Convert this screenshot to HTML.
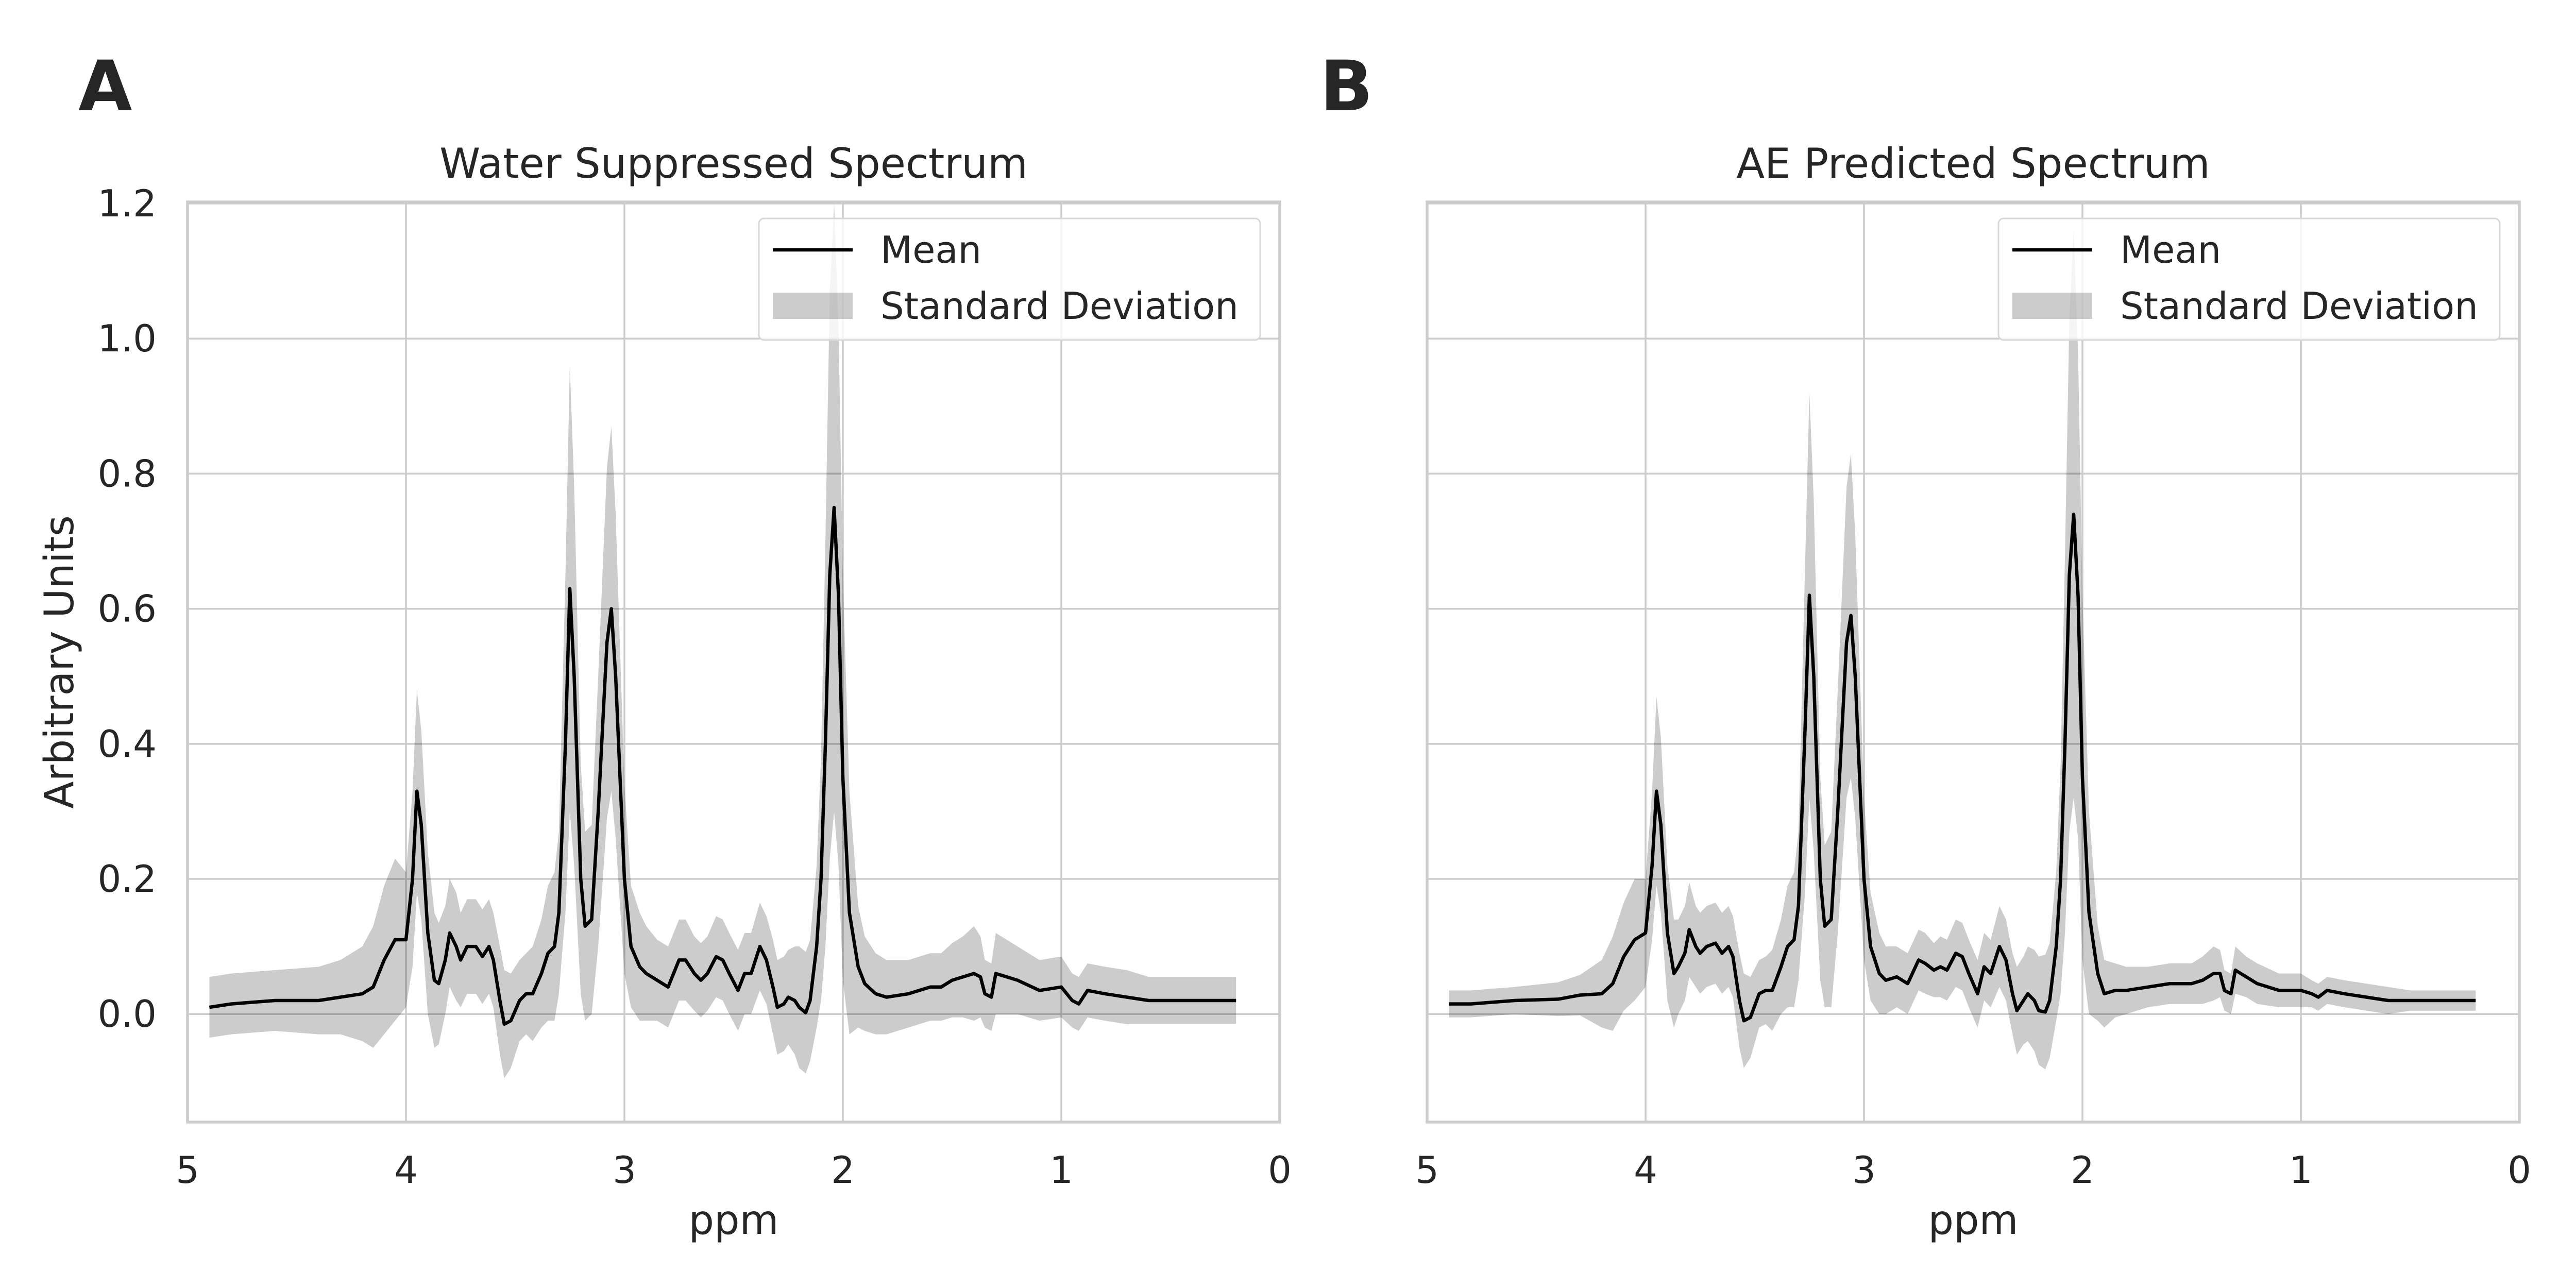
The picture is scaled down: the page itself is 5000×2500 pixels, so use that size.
<!DOCTYPE html>
<html><head><meta charset="utf-8">
<style>
html,body{margin:0;padding:0;background:#fff;}
svg{display:block;font-family:"DejaVu Sans","Liberation Sans",sans-serif;}
</style></head>
<body>
<svg id="fig" width="5000" height="2500" viewBox="0 0 5000 2500" xmlns="http://www.w3.org/2000/svg">
<rect width="5000" height="2500" fill="#fff"/>
</svg>
<script>
const ppmA=[4.9,4.8,4.6,4.4,4.3,4.2,4.15,4.1,4.05,4.0,3.97,3.95,3.93,3.9,3.87,3.85,3.82,3.8,3.77,3.75,3.72,3.68,3.65,3.62,3.6,3.57,3.55,3.52,3.48,3.45,3.42,3.38,3.35,3.32,3.3,3.27,3.25,3.23,3.2,3.18,3.15,3.12,3.08,3.06,3.04,3.0,2.97,2.93,2.9,2.85,2.8,2.75,2.72,2.68,2.65,2.62,2.58,2.55,2.52,2.48,2.45,2.42,2.38,2.35,2.32,2.3,2.27,2.25,2.22,2.2,2.17,2.15,2.12,2.1,2.08,2.06,2.04,2.02,2.0,1.97,1.93,1.9,1.85,1.8,1.7,1.6,1.55,1.5,1.45,1.4,1.37,1.35,1.32,1.3,1.25,1.2,1.1,1.0,0.95,0.92,0.88,0.8,0.7,0.6,0.5,0.4,0.3,0.2];
const meanA=[0.01,0.015,0.02,0.02,0.025,0.03,0.04,0.08,0.11,0.11,0.2,0.33,0.28,0.12,0.05,0.045,0.08,0.12,0.1,0.08,0.1,0.1,0.085,0.1,0.08,0.02,-0.015,-0.01,0.02,0.03,0.03,0.06,0.09,0.1,0.15,0.4,0.63,0.5,0.2,0.13,0.14,0.3,0.55,0.6,0.5,0.2,0.1,0.07,0.06,0.05,0.04,0.08,0.08,0.06,0.05,0.06,0.085,0.08,0.06,0.035,0.06,0.06,0.1,0.08,0.04,0.01,0.015,0.025,0.02,0.01,0.002,0.02,0.1,0.2,0.4,0.65,0.75,0.62,0.35,0.15,0.07,0.045,0.03,0.025,0.03,0.04,0.04,0.05,0.055,0.06,0.055,0.03,0.025,0.06,0.055,0.05,0.035,0.04,0.02,0.015,0.035,0.03,0.025,0.02,0.02,0.02,0.02,0.02];
const sdA=[0.045,0.045,0.045,0.05,0.055,0.07,0.09,0.11,0.12,0.1,0.13,0.15,0.14,0.12,0.1,0.09,0.08,0.08,0.08,0.07,0.07,0.07,0.07,0.07,0.07,0.08,0.08,0.07,0.06,0.06,0.07,0.08,0.1,0.11,0.12,0.25,0.33,0.28,0.17,0.14,0.14,0.2,0.26,0.27,0.24,0.14,0.09,0.08,0.07,0.06,0.06,0.06,0.06,0.055,0.055,0.055,0.06,0.06,0.06,0.06,0.06,0.06,0.065,0.065,0.07,0.07,0.07,0.07,0.08,0.09,0.09,0.09,0.12,0.18,0.3,0.42,0.45,0.4,0.3,0.18,0.09,0.07,0.06,0.055,0.05,0.05,0.05,0.055,0.06,0.07,0.06,0.05,0.05,0.06,0.055,0.05,0.045,0.045,0.04,0.04,0.04,0.04,0.04,0.035,0.035,0.035,0.035,0.035];

const ppmB=ppmA;
const meanB=[0.015,0.015,0.02,0.022,0.028,0.03,0.045,0.085,0.11,0.12,0.22,0.33,0.28,0.12,0.06,0.07,0.09,0.125,0.1,0.09,0.1,0.105,0.09,0.1,0.085,0.02,-0.01,-0.005,0.03,0.035,0.035,0.07,0.1,0.11,0.16,0.42,0.62,0.5,0.2,0.13,0.14,0.3,0.55,0.59,0.5,0.2,0.1,0.06,0.05,0.055,0.045,0.08,0.075,0.065,0.07,0.065,0.09,0.085,0.06,0.03,0.07,0.06,0.1,0.08,0.03,0.005,0.02,0.03,0.02,0.005,0.003,0.02,0.1,0.2,0.4,0.65,0.74,0.62,0.35,0.15,0.06,0.03,0.035,0.035,0.04,0.045,0.045,0.045,0.05,0.06,0.06,0.035,0.03,0.065,0.055,0.045,0.035,0.035,0.03,0.025,0.035,0.03,0.025,0.02,0.02,0.02,0.02,0.02];
const sdB=[0.02,0.02,0.02,0.025,0.03,0.05,0.07,0.08,0.09,0.08,0.11,0.14,0.13,0.1,0.08,0.07,0.07,0.07,0.06,0.06,0.06,0.06,0.06,0.06,0.06,0.07,0.07,0.06,0.05,0.05,0.06,0.07,0.09,0.1,0.11,0.24,0.3,0.26,0.15,0.12,0.13,0.18,0.23,0.24,0.21,0.12,0.08,0.06,0.05,0.045,0.045,0.045,0.045,0.04,0.045,0.045,0.05,0.05,0.05,0.05,0.05,0.05,0.06,0.06,0.06,0.065,0.065,0.07,0.075,0.08,0.085,0.085,0.11,0.17,0.28,0.38,0.42,0.36,0.27,0.15,0.07,0.05,0.04,0.035,0.03,0.03,0.03,0.03,0.035,0.04,0.035,0.03,0.03,0.035,0.03,0.03,0.025,0.025,0.02,0.02,0.02,0.02,0.02,0.02,0.015,0.015,0.015,0.015];

const xTicks=[5,4,3,2,1,0];
const xTickLabels=["5","4","3","2","1","0"];
const yTicks=[0,0.2,0.4,0.6,0.8,1.0,1.2];
const yTickLabels=["0.0","0.2","0.4","0.6","0.8","1.0","1.2"];

const NS="http://www.w3.org/2000/svg";
const svg=document.getElementById('fig');
function mk(tag,attrs,parent){const e=document.createElementNS(NS,tag);for(const k in attrs)e.setAttribute(k,attrs[k]);(parent||svg).appendChild(e);return e;}

function panel(opts){
  const L=opts.left,R=opts.right,T=392,B=2178;
  const xmin=5,xmax=0,ymin=-0.16,ymax=1.2023;
  const sx=v=>L+(v-xmin)/(xmax-xmin)*(R-L);
  const sy=v=>B-(v-ymin)/(ymax-ymin)*(B-T);
  const g=mk('g',{});
  
  
  xTicks.forEach((t,i)=>{
    const l=mk('line',{x1:sx(t),x2:sx(t),y1:T,y2:B,stroke:'#cccccc','stroke-width':3.5},g);
    
    
    const tx=mk('text',{x:sx(t),y:2296,'font-size':72,'text-anchor':'middle',fill:'#262626'},g);
    
    
    tx.textContent=xTickLabels[i];
  });
  yTicks.forEach((t,i)=>{
    const l=mk('line',{x1:L,x2:R,y1:sy(t),y2:sy(t),stroke:'#cccccc','stroke-width':3.5},g);
    
    
    if(opts.yLabels){
      const tx=mk('text',{x:304,y:sy(t)+25,'font-size':72,'text-anchor':'end',fill:'#262626'},g);
      
      
      tx.textContent=yTickLabels[i];
    }
  });
  const ppm=opts.ppm,m=opts.mean,s=opts.sd;
  let d='';
  for(let i=0;i<ppm.length;i++)d+=(i?'L':'M')+sx(ppm[i]).toFixed(1)+','+sy(m[i]+s[i]).toFixed(1);
  for(let i=ppm.length-1;i>=0;i--)d+='L'+sx(ppm[i]).toFixed(1)+','+sy(m[i]-s[i]).toFixed(1);
  const band=mk('path',{d:d+'Z',fill:'#000','fill-opacity':0.2,stroke:'none'},g);
  
  
  let pts='';
  for(let i=0;i<ppm.length;i++)pts+=sx(ppm[i]).toFixed(1)+','+sy(m[i]).toFixed(1)+' ';
  const line=mk('polyline',{points:pts,fill:'none',stroke:'#000','stroke-width':6.5,'stroke-linejoin':'round'},g);
  
  
  const sp=mk('rect',{x:L,y:T,width:R-L,height:B-T,fill:'none',stroke:'#cccccc','stroke-width':5.5},g);
  
  
  const ti=mk('text',{x:(L+R)/2,y:345,'font-size':80,'text-anchor':'middle',fill:'#262626'},g);
  
  
  ti.textContent=opts.title;
  const xl=mk('text',{x:(L+R)/2,y:2395,'font-size':78,'text-anchor':'middle',fill:'#262626'},g);
  
  
  xl.textContent='ppm';
  const lx=R-1011,ly=424;
  const lg=mk('g',{},g);
  
  
  mk('rect',{x:lx,y:ly,width:973,height:236,rx:10,fill:'#fff','fill-opacity':0.8,stroke:'#d8d8d8','stroke-width':3},lg);
  mk('line',{x1:lx+27,x2:lx+182,y1:485,y2:485,stroke:'#000','stroke-width':6.5},lg);
  mk('rect',{x:lx+27,y:568,width:155,height:51,fill:'#000','fill-opacity':0.2},lg);
  const t1=mk('text',{x:lx+236,y:510,'font-size':72,fill:'#262626'},lg);
  
  
  t1.textContent='Mean';
  const t2=mk('text',{x:lx+236,y:619,'font-size':72,fill:'#262626'},lg);
  
  
  t2.textContent='Standard Deviation';
  const pl=mk('text',{x:opts.letterX,y:214,'font-size':135,'font-weight':'bold',fill:'#262626'},g);
  
  
  pl.textContent=opts.letter;
}
panel({name:'panel-a',left:364,right:2484,ppm:ppmA,mean:meanA,sd:sdA,title:'Water Suppressed Spectrum',yLabels:true,letter:'A',letterX:152});
panel({name:'panel-b',left:2770,right:4890,ppm:ppmB,mean:meanB,sd:sdB,title:'AE Predicted Spectrum',yLabels:false,letter:'B',letterX:2562});
const yl=mk('text',{x:0,y:0,'font-size':78,'text-anchor':'middle',fill:'#262626',transform:'translate(142,1285) rotate(-90)'});


yl.textContent='Arbitrary Units';
</script>
</body></html>
